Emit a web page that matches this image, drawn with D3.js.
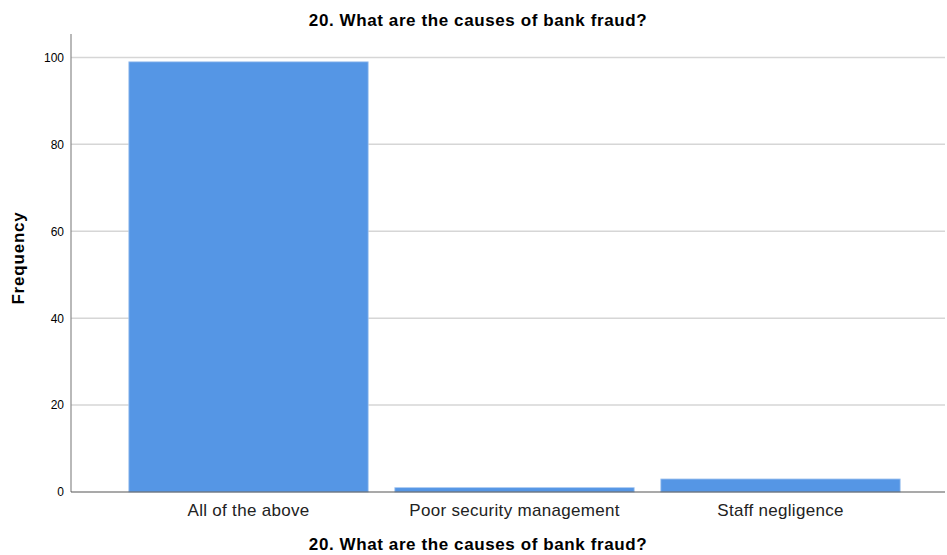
<!DOCTYPE html>
<html>
<head>
<meta charset="utf-8">
<script src="https://cdn.jsdelivr.net/npm/d3@7"></script>
<style>
  body { margin: 0; background: #fff; }
  text { font-family: "Liberation Sans", Arial, sans-serif; }
</style>
</head>
<body>
<div class="chart"></div>
<script>
const w = 947;
const h = 555;

const categories = ["All of the above", "Poor security management", "Staff negligence"];
const frequency = [99, 1, 3];
const yTicks = [0, 20, 40, 60, 80, 100];

const title = "20. What are the causes of bank fraud?";

const plotLeft = 71;
const plotRight = 945;
const plotTop = 34;
const plotBottom = 492;

const svg = d3
  .select(".chart")
  .append("svg")
  .attr("width", w)
  .attr("height", h);

const yScale = d3.scaleLinear().domain([0, 105.4]).range([plotBottom, plotTop]);

const xScale = d3
  .scaleBand()
  .domain(categories)
  .range([115.5, 913.5])
  .paddingInner(0.1)
  .paddingOuter(0.05);

// gridlines
svg.append("g")
  .selectAll("line")
  .data(yTicks.filter((d) => d > 0))
  .enter()
  .append("line")
  .attr("x1", plotLeft)
  .attr("x2", plotRight)
  .attr("y1", (d) => yScale(d))
  .attr("y2", (d) => yScale(d))
  .attr("stroke", "#d6d6d6")
  .attr("stroke-width", 1.5);

// bars
svg.append("g")
  .selectAll("rect")
  .data(frequency)
  .enter()
  .append("rect")
  .attr("x", (d, i) => xScale(categories[i]))
  .attr("y", (d) => yScale(d))
  .attr("width", xScale.bandwidth())
  .attr("height", (d) => yScale(0) - yScale(d))
  .style("fill", "#5596e5")
  .attr("stroke", "#a9c8f0")
  .attr("stroke-width", 0.8);

// y axis
const yAxis = d3.axisLeft(yScale).tickValues(yTicks).tickSize(0).tickPadding(7);
const gy = svg.append("g")
  .attr("transform", `translate(${plotLeft},0)`)
  .call(yAxis);
gy.select(".domain").remove();
gy.selectAll("text")
  .style("font-size", "12px")
  .style("fill", "#000");
gy.append("line")
  .attr("x1", 0).attr("x2", 0)
  .attr("y1", plotTop).attr("y2", plotBottom)
  .attr("stroke", "#8a8a8a")
  .attr("stroke-width", 1.2);

// x axis
const xAxis = d3.axisBottom(xScale).tickSize(0).tickPadding(12);
const gx = svg.append("g")
  .attr("transform", `translate(0,${plotBottom})`)
  .call(xAxis);
gx.select(".domain").remove();
gx.selectAll("text")
  .style("font-size", "17px")
  .style("letter-spacing", "0.3px")
  .style("fill", "#222");
gx.append("line")
  .attr("x1", plotLeft).attr("x2", plotRight)
  .attr("y1", 0).attr("y2", 0)
  .attr("stroke", "#555")
  .attr("stroke-width", 1.2);

// titles
svg.append("text")
  .attr("x", 478)
  .attr("y", 26)
  .attr("text-anchor", "middle")
  .style("font-size", "17px")
  .style("letter-spacing", "0.6px")
  .style("font-weight", "bold")
  .text(title);

svg.append("text")
  .attr("x", 478)
  .attr("y", 550)
  .attr("text-anchor", "middle")
  .style("font-size", "17px")
  .style("letter-spacing", "0.6px")
  .style("font-weight", "bold")
  .text(title);

svg.append("text")
  .attr("transform", `translate(24,258) rotate(-90)`)
  .attr("text-anchor", "middle")
  .style("font-size", "17px")
  .style("letter-spacing", "0.8px")
  .style("font-weight", "bold")
  .text("Frequency");
</script>
</body>
</html>
